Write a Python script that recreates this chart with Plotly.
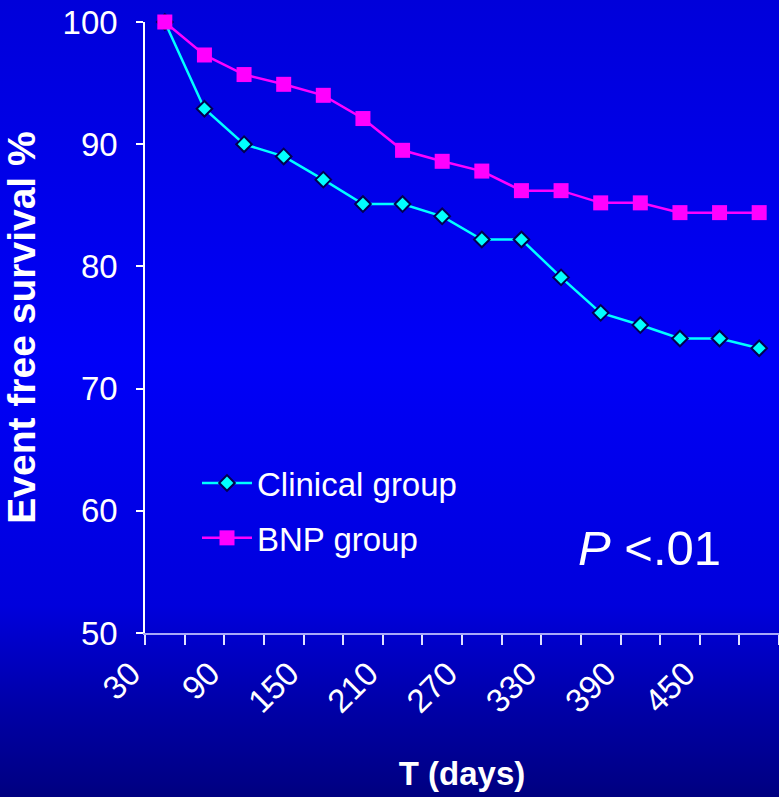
import base64
import plotly.graph_objects as go

# ---- data ----
days = [30, 60, 90, 120, 150, 180, 210, 240, 270, 300, 330, 360, 390, 420, 450, 480]
clinical = [100, 92.9, 90.0, 89.0, 87.1, 85.1, 85.1, 84.1, 82.2, 82.2, 79.1, 76.2, 75.2, 74.1, 74.1, 73.3]
bnp = [100, 97.3, 95.7, 94.9, 94.0, 92.1, 89.5, 88.6, 87.8, 86.2, 86.2, 85.2, 85.2, 84.4, 84.4, 84.4]
tick_days = [30, 90, 150, 210, 270, 330, 390, 450]
tick_labels = ["30", "90", "150", "210", "270", "330", "390", "450"]
y_ticks = [50, 60, 70, 80, 90, 100]

FONT = "Arial, 'Liberation Sans', sans-serif"

# background gradient as an SVG image
svg = (
    '<svg xmlns="http://www.w3.org/2000/svg" width="10" height="100" preserveAspectRatio="none">'
    '<defs><linearGradient id="g" x1="0" y1="0" x2="0" y2="1">'
    '<stop offset="0" stop-color="#0000DA"/>'
    '<stop offset="0.45" stop-color="#0000F8"/>'
    '<stop offset="0.76" stop-color="#0000DC"/>'
    '<stop offset="0.89" stop-color="#0000A6"/>'
    '<stop offset="1" stop-color="#000080"/>'
    '</linearGradient></defs>'
    '<rect x="0" y="0" width="10" height="100" fill="url(#g)"/></svg>'
)
bg_uri = "data:image/svg+xml;base64," + base64.b64encode(svg.encode()).decode()

W, H = 779, 797
L, R, T, B = 145, 0, 22, 164
pw, ph = W - L - R, H - T - B

fig = go.Figure()
fig.add_trace(go.Scatter(
    x=days, y=clinical, mode="lines+markers", name="Clinical group",
    line=dict(color="#00FFFF", width=2.5),
    marker=dict(symbol="diamond", size=12, color="#00FFFF",
                line=dict(color="#000050", width=2)),
    cliponaxis=False, legendgroup="a",
))
fig.add_trace(go.Scatter(
    x=days, y=bnp, mode="lines+markers", name="BNP group",
    line=dict(color="#FF00FF", width=2.5),
    marker=dict(symbol="square", size=15, color="#FF00FF",
                line=dict(color="#FF00FF", width=0)),
    cliponaxis=False, legendgroup="b",
))

fig.add_layout_image(dict(
    source=bg_uri, xref="paper", yref="paper",
    x=-L / pw, y=1 + T / ph, sizex=W / pw, sizey=H / ph,
    xanchor="left", yanchor="top", sizing="stretch", layer="below",
))

fig.add_annotation(
    text="<i>P</i> <.01", xref="paper", yref="paper",
    x=(649 - L) / pw, y=(633 - 548) / ph, xanchor="center", yanchor="middle",
    showarrow=False,
    font=dict(family=FONT, size=49, color="white"),
)

fig.update_layout(
    width=W, height=H,
    margin=dict(l=L, r=R, t=T, b=B),
    paper_bgcolor="#0000C0", plot_bgcolor="rgba(0,0,0,0)",
    font=dict(family=FONT, color="white"),
    showlegend=True,
    legend=dict(
        x=(197 - L) / pw, y=(633 - 455) / ph, xanchor="left", yanchor="top",
        bgcolor="rgba(0,0,0,0)", font=dict(family=FONT, size=33, color="white"),
        itemwidth=50, tracegroupgap=9, traceorder="grouped",
    ),
    xaxis=dict(
        range=[15, 495], tickmode="array", tickvals=tick_days, ticktext=tick_labels,
        ticks="", tickangle=-45, tickfont=dict(family=FONT, size=33, color="white"),
        ticklabelstandoff=6, ticklabelshift=-34,
        showline=True, linecolor="#A8A8F8", linewidth=2,
        showgrid=False, zeroline=False,
        minor=dict(ticks="outside", tick0=15, dtick=30, ticklen=10,
                   tickcolor="#E0E0FF", tickwidth=1.5, showgrid=False),
        title=dict(text="<b>T (days)</b>", font=dict(family=FONT, size=33, color="white"),
                   standoff=43),
    ),
    yaxis=dict(
        range=[50, 100], tickmode="array", tickvals=y_ticks,
        ticks="outside", ticklen=7, tickcolor="white", tickwidth=1.5,
        tickfont=dict(family=FONT, size=33, color="white"),
        ticklabelstandoff=12,
        showline=True, linecolor="white", linewidth=1.5,
        showgrid=False, zeroline=False,
        title=dict(text="<b>Event free survival %</b>",
                   font=dict(family=FONT, size=39, color="white"), standoff=22),
    ),
)

fig.write_html("out.html")
